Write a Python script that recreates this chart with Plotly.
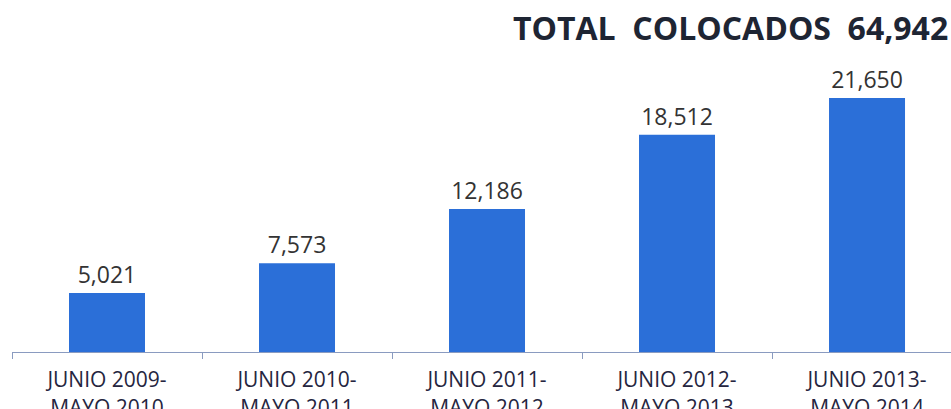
import plotly.graph_objects as go

categories = ["JUNIO 2009-<br>MAYO 2010", "JUNIO 2010-<br>MAYO 2011", "JUNIO 2011-<br>MAYO 2012",
              "JUNIO 2012-<br>MAYO 2013", "JUNIO 2013-<br>MAYO 2014"]
values = [5021, 7573, 12186, 18512, 21650]
value_labels = ["5,021", "7,573", "12,186", "18,512", "21,650"]
title_text = "TOTAL&nbsp;&nbsp;COLOCADOS&nbsp;&nbsp;64,942"

FONT = "Open Sans"

fig = go.Figure(go.Bar(
    x=categories, y=values, text=value_labels, textposition="outside",
    textfont=dict(family=FONT, size=23, color="#333333"),
    marker=dict(color="#2b6fd8", line=dict(width=0)),
    width=0.4, cliponaxis=False,
))

fig.update_layout(
    width=951, height=409,
    margin=dict(l=12, r=0, t=40, b=57, autoexpand=False),
    paper_bgcolor="white", plot_bgcolor="white",
    showlegend=False,
    xaxis=dict(
        range=[-0.5, 4.442], showline=True, linecolor="#8a9bc0", linewidth=1,
        ticks="outside", tickson="boundaries", ticklen=6, tickcolor="#8a9bc0",
        tickfont=dict(family=FONT, size=21, color="#252540"),
        ticklabelstandoff=9, showgrid=False, automargin=False,
    ),
    yaxis=dict(range=[0, 26594], visible=False, showgrid=False, zeroline=False),
    annotations=[dict(
        text="<b>" + title_text + "</b>", xref="paper", yref="paper",
        x=(511 - 12) / 939, y=1.0385, xanchor="left", yanchor="middle",
        showarrow=False, font=dict(family=FONT, size=32, color="#1e2533"),
    )],
)

fig.write_html("out.html", config={"displayModeBar": False},
               post_script="document.body.style.margin='0';")
